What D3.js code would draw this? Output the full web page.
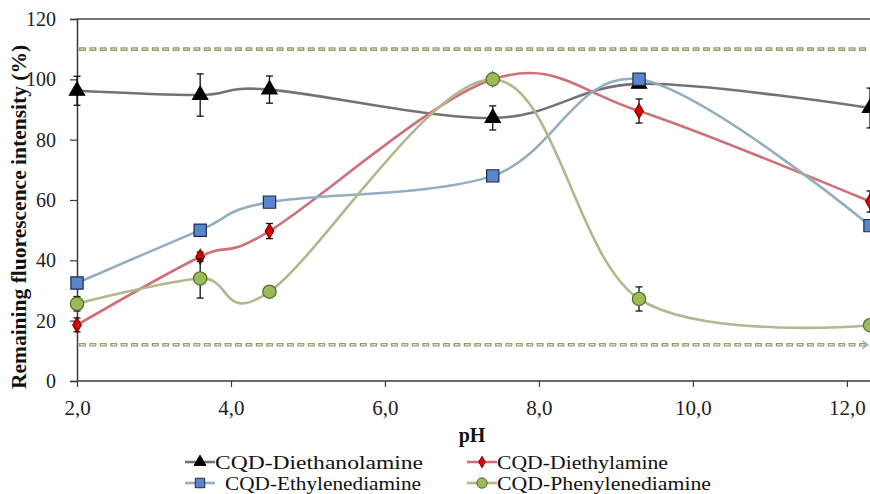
<!DOCTYPE html>
<html>
<head>
<meta charset="utf-8">
<script src="https://cdn.jsdelivr.net/npm/d3@7"></script>
<style>
  html, body { margin: 0; padding: 0; background: #fff; }
  svg { display: block; font-family: "Liberation Serif", "Times New Roman", serif; }
</style>
</head>
<body>
<svg id="chart" width="870" height="494"></svg>
<script>
// pH values at which fluorescence was measured
const pH = [2.0, 3.6, 4.5, 7.4, 9.3, 12.3];

// Remaining fluorescence intensity (%) and standard deviations for each CQD
const diethanolamine     = [96.2, 94.8, 96.6, 87.2, 98.5, 90.5];
const diethanolamineErr  = [4.8, 7.0, 4.5, 4.0, 1.0, 6.6];
const diethylamine       = [18.6, 41.2, 49.7, 100.0, 89.5, 59.5];
const diethylamineErr    = [2.3, 1.5, 2.5, 0.5, 4.0, 3.5];
const ethylenediamine    = [32.5, 50.0, 59.3, 68.0, 100.0, 51.5];
const ethylenediamineErr = [1.0, 1.0, 1.0, 1.0, 1.0, 1.5];
const phenylenediamine   = [25.6, 34.0, 29.6, 100.0, 27.2, 18.5];
const phenylenediamineErr= [2.4, 6.5, 1.0, 0.5, 4.0, 1.0];

// Reference limits drawn as dashed lines
const limits = [110, 12];

// Axis ticks
const xTicks = [2, 4, 6, 8, 10, 12];
const yTicks = [0, 20, 40, 60, 80, 100, 120];

const seriesNames = ["CQD-Diethanolamine", "CQD-Diethylamine", "CQD-Ethylenediamine", "CQD-Phenylenediamine"];

const series = [
  { name: seriesNames[0], values: diethanolamine, err: diethanolamineErr,
    line: "#737373", shape: d3.symbolTriangle, size: 100, fill: "#000", stroke: "#000" },
  { name: seriesNames[1], values: diethylamine, err: diethylamineErr,
    line: "#cf6f78", shape: d3.symbolDiamond, size: 62, fill: "#e00000", stroke: "#7a0000" },
  { name: seriesNames[2], values: ethylenediamine, err: ethylenediamineErr,
    line: "#93aebf", shape: d3.symbolSquare, size: 150, fill: "#5a86cc", stroke: "#1c2c48" },
  { name: seriesNames[3], values: phenylenediamine, err: phenylenediamineErr,
    line: "#b3b68f", shape: d3.symbolCircle, size: 140, fill: "#9bbb59", stroke: "#566a28" }
];

const svg = d3.select("#chart");

const x = d3.scaleLinear().domain([2, 12.3]).range([77, 870]);
const y = d3.scaleLinear().domain([0, 120]).range([381, 19]);

const commaFmt = v => d3.format(".1f")(v).replace(".", ",");

// Plot frame (top edge)
svg.append("line")
  .attr("x1", x(2)).attr("x2", 870)
  .attr("y1", y(120)).attr("y2", y(120))
  .attr("stroke", "#4a4a4a").attr("stroke-width", 1.5);

// Dashed limit lines: darker outline dash with a light core
const limG = svg.append("g");
limits.forEach(v => {
  limG.append("line")
    .attr("x1", x(2) + 2).attr("x2", 868)
    .attr("y1", y(v)).attr("y2", y(v))
    .attr("stroke", "#959b6c").attr("stroke-width", 3.6)
    .attr("stroke-dasharray", "7 3.4");
  limG.append("line")
    .attr("x1", x(2) + 2).attr("x2", 868)
    .attr("y1", y(v)).attr("y2", y(v))
    .attr("stroke", "#dde0c2").attr("stroke-width", 1.4)
    .attr("stroke-dasharray", "4.6 5.8")
    .attr("stroke-dashoffset", -1.2);
});
// small arrow tip at the end of the lower limit
limG.append("path")
  .attr("d", `M${862},${y(12) - 4}L${868},${y(12)}L${862},${y(12) + 4}`)
  .attr("fill", "none").attr("stroke", "#7fb3c4").attr("stroke-width", 1.2);

// Axes
const yAxis = d3.axisLeft(y).tickValues(yTicks).tickSize(7).tickPadding(14).tickFormat(d3.format("d"));
const gy = svg.append("g").attr("transform", `translate(${x(2)},0)`).call(yAxis);
gy.select(".domain").attr("stroke", "#3a3a3a").attr("stroke-width", 1.5);
gy.selectAll(".tick line").attr("stroke", "#3a3a3a").attr("stroke-width", 1.2);
gy.selectAll("text").attr("font-size", 20).attr("fill", "#222").attr("font-family", "Liberation Serif, Times New Roman, serif");

const xAxis = d3.axisBottom(x).tickValues(xTicks).tickSize(6).tickPadding(13).tickFormat(commaFmt);
const gx = svg.append("g").attr("transform", `translate(0,${y(0)})`).call(xAxis);
gx.select(".domain").attr("d", `M${x(2)},0H870`).attr("stroke", "#3a3a3a").attr("stroke-width", 1.5);
gx.selectAll(".tick line").attr("stroke", "#3a3a3a").attr("stroke-width", 1.2);
gx.selectAll("text").attr("font-size", 21).attr("fill", "#222").attr("font-family", "Liberation Serif, Times New Roman, serif");

// Axis titles
svg.append("text")
  .attr("transform", "translate(26,217) rotate(-90)")
  .attr("text-anchor", "middle")
  .attr("font-size", 21.5).attr("font-weight", "bold").attr("fill", "#111")
  .text("Remaining fluorescence intensity (%)");

svg.append("text")
  .attr("x", 472).attr("y", 442)
  .attr("text-anchor", "middle")
  .attr("font-size", 20).attr("font-weight", "bold").attr("fill", "#111")
  .text("pH");

// Smoothed series lines, error bars and markers
const lineGen = d3.line()
  .x(d => x(d[0])).y(d => y(d[1]))
  .curve(d3.curveCatmullRom.alpha(0));

const plot = svg.append("g");
series.forEach(s => {
  const pts = pH.map((p, i) => [p, s.values[i], s.err[i]]);
  const g = plot.append("g");
  g.append("path")
    .attr("d", lineGen(pts))
    .attr("fill", "none").attr("stroke", s.line).attr("stroke-width", 2.6);
  const eb = g.append("g").attr("stroke", "#111").attr("stroke-width", 1.3);
  pts.forEach(d => {
    const cx = x(d[0]), yt = y(d[1] + d[2]), yb = y(d[1] - d[2]);
    eb.append("line").attr("x1", cx).attr("x2", cx).attr("y1", yt).attr("y2", yb);
    eb.append("line").attr("x1", cx - 3.5).attr("x2", cx + 3.5).attr("y1", yt).attr("y2", yt);
    eb.append("line").attr("x1", cx - 3.5).attr("x2", cx + 3.5).attr("y1", yb).attr("y2", yb);
  });
  g.selectAll("path.mark").data(pts).join("path")
    .attr("class", "mark")
    .attr("transform", d => `translate(${x(d[0])},${y(d[1])})`)
    .attr("d", d3.symbol().type(s.shape).size(s.size))
    .attr("fill", s.fill).attr("stroke", s.stroke).attr("stroke-width", 1.2);
});

// Legend: two rows, two columns
const legendPos = [[185, 462], [467, 462], [185, 483], [467, 483]];
const legendText = [[215, 208], [497, 171], [225, 196], [497, 214]];
const leg = svg.append("g");
series.forEach((s, i) => {
  const [lx, ly] = legendPos[i];
  leg.append("line")
    .attr("x1", lx).attr("x2", lx + 30).attr("y1", ly).attr("y2", ly)
    .attr("stroke", s.line).attr("stroke-width", 2.6);
  leg.append("path")
    .attr("transform", `translate(${lx + 15},${ly})`)
    .attr("d", d3.symbol().type(s.shape).size(s.size * 0.6))
    .attr("fill", s.fill).attr("stroke", s.stroke).attr("stroke-width", 1);
  leg.append("text")
    .attr("x", legendText[i][0]).attr("y", ly + 6.5)
    .attr("font-size", 19).attr("fill", "#111")
    .attr("textLength", legendText[i][1]).attr("lengthAdjust", "spacingAndGlyphs")
    .text(s.name);
});
</script>
</body>
</html>
